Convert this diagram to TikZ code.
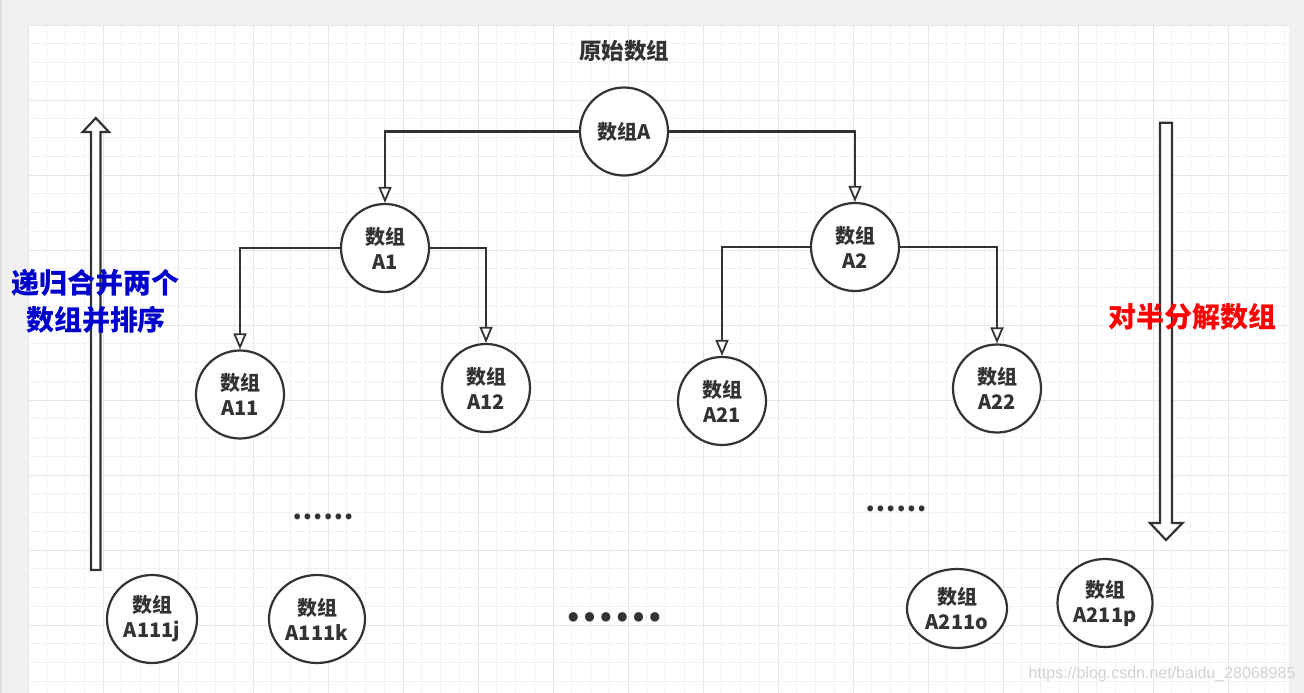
\documentclass[tikz,border=0pt]{standalone}
\usepackage{fontspec}
\setmainfont{Noto Sans CJK SC}
\newfontfamily\wmfont{Liberation Sans}
\usepackage{tikz}
\usetikzlibrary{shapes.geometric}
\usetikzlibrary{arrows.meta}

\definecolor{inkgray}{HTML}{333333}
\definecolor{paper}{HTML}{F1F1F1}
\definecolor{gridminor}{HTML}{F2F2F2}
\definecolor{gridmajor}{HTML}{E6E6E6}
\definecolor{mergeblue}{HTML}{0000CC}
\definecolor{splitred}{HTML}{FF0000}

\tikzset{
  arr/.style={draw=inkgray, line width=2.2pt, ellipse, fill=white, inner sep=0pt,
    minimum width=88pt, minimum height=88pt, align=center, text=inkgray,
    font=\bfseries\fontsize{20}{25}\selectfont},
  link/.style={draw=inkgray, line width=2.2pt, -{Triangle[open,width=13pt,length=16pt,line width=1.8pt]}},
  bigarrow/.style={draw=inkgray, line width=2.2pt, fill=white, line join=miter},
  note/.style={font=\bfseries\fontsize{28}{37}\selectfont, align=center}
}

\begin{document}
\begin{tikzpicture}[x=1pt,y=-1pt]
    \useasboundingbox (0,0) rectangle (1304,693);
    % paper and grid
    \fill[paper] (0,0) rectangle (1304,693);
    \fill[gray!25] (0,0) rectangle (2,693);
    \fill[white] (28,25) rectangle (1289,693);
    \draw[gridminor, line width=1pt, xshift=28pt, yshift=-25pt] (0,0) grid[step=18.75pt] (1261,668);
    \draw[gridmajor, line width=1pt, xshift=28pt, yshift=-25pt] (0,0) grid[step=75pt] (1261,668);

    \node (Title)[text=inkgray, font=\bfseries\fontsize{22.5}{26}\selectfont] at (624,51) {原始数组};

    \node (A)[arr] at (624,131.5) {数组A};
    \node (A1)[arr] at (385,248) {数组\\A1};
    \node (A2)[arr] at (855,247) {数组\\A2};
    \node (A11)[arr] at (240,394.5) {数组\\A11};
    \node (A12)[arr] at (486,388) {数组\\A12};
    \node (A21)[arr] at (722,401) {数组\\A21};
    \node (A22)[arr] at (997,388.5) {数组\\A22};
    \node (A111j)[arr, minimum width=90pt] at (152,619) {数组\\A111j};
    \node (A111k)[arr, minimum width=96pt] at (317,619) {数组\\A111k};
    \node (A211o)[arr, minimum width=100pt, minimum height=79pt] at (957,608.5) {数组\\A211o};
    \node (A211p)[arr, minimum width=95pt] at (1105,603) {数组\\A211p};

    \draw [link] (A.west) -| (A1.north);
    \draw [link] (A.east) -| (A2.north);
    \draw [link] (A1.west) -| (A11.north);
    \draw [link] (A1.east) -| (A12.north);
    \draw [link] (A2.west) -| (A21.north);
    \draw [link] (A2.east) -| (A22.north);

    % dots
    \node (DotsL)[text=inkgray, font=\bfseries\fontsize{27}{27}\selectfont] at (323,517) {……};
    \node (DotsR)[text=inkgray, font=\bfseries\fontsize{27}{27}\selectfont] at (896,509) {……};
    \node (DotsM)[text=inkgray, font=\bfseries\fontsize{43}{43}\selectfont] at (614,617) {……};

    % hollow arrows
    \draw[bigarrow] (91,570) -- (91,132) -- (82.7,132) -- (95.8,118) -- (109,132) -- (100.5,132) -- (100.5,570) -- cycle;
    \draw[bigarrow] (1160,122.7) -- (1160,523) -- (1150,523) -- (1166,540) -- (1182.5,523) -- (1172,523) -- (1172,122.7) -- cycle;

    \node (Merge)[note, text=mergeblue] at (96,301.5) {递归合并两个\\数组并排序};
    \node (Split)[note, text=splitred] at (1192,317) {对半分解数组};

    \node (Mark)[text=gray!35, font=\wmfont\fontsize{16}{16}\selectfont] at (1162,674) {https://blog.csdn.net/baidu\_28068985};
\end{tikzpicture}
\end{document}
